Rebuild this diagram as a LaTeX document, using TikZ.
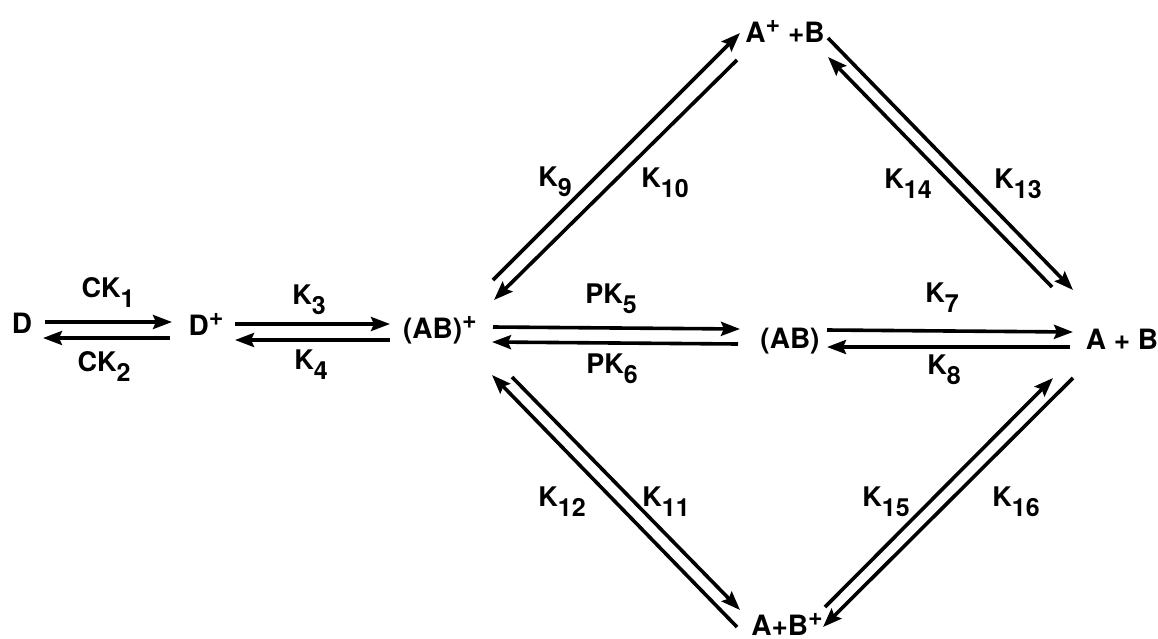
\documentclass[tikz,border=0pt]{standalone}
\usepackage{fontspec}
\setmainfont{TeX Gyre Heros}
\usepackage{tikz}
\usetikzlibrary{arrows.meta}

\newcommand{\rconst}[2]{#1\raisebox{-5pt}{\fontsize{12.5}{13}\selectfont #2}}
\newcommand{\chg}[1]{\raisebox{5pt}{\fontsize{12.5}{13}\selectfont #1}}

\tikzset{
  species/.style={font=\fontsize{14}{16}\selectfont\bfseries, inner sep=0pt, anchor=base},
  rlabel/.style={font=\fontsize{13.5}{15}\selectfont\bfseries, inner sep=0pt},
  react/.style={line width=1.8pt, -{Stealth[length=9.5pt,width=7pt,inset=1.5pt]}},
}

\begin{document}
\begin{tikzpicture}[x=0.5pt,y=-0.5pt]
    \useasboundingbox (0,0) rectangle (1158,638);
    \node[species] (d)     at (22,333)   {D};
    \node[species] (dp)    at (206,335)  {D\chg{+}};
    \node[species] (abp)   at (440,338)  {(AB)\chg{+}};
    \node[species] (ab)    at (790,348)  {(AB)};
    \node[species] (apb)   at (1122,349) {A + B};
    \node[species] (aplus) at (785,42)   {A\chg{+} +B};
    \node[species] (bplus) at (787,635)  {A+B\chg{+}};

    \draw[react] ([shift={(23,-11)}]d.base) -- ([shift={(-34,-13)}]dp.base);
    \draw[react] ([shift={(-36,3)}]dp.base) -- ([shift={(21,5)}]d.base);
    \draw[react] ([shift={(29,-11)}]dp.base) -- ([shift={(-50,-14)}]abp.base);
    \draw[react] ([shift={(-50,2)}]abp.base) -- ([shift={(29,5)}]dp.base);
    \draw[react] ([shift={(53,-11)}]abp.base) -- ([shift={(-50,-19)}]ab.base);
    \draw[react] ([shift={(-52,-4)}]ab.base) -- ([shift={(52,4)}]abp.base);
    \draw[react] ([shift={(37,-18)}]ab.base) -- ([shift={(-49,-17)}]apb.base);
    \draw[react] ([shift={(-52,-2)}]apb.base) -- ([shift={(37,-1)}]ab.base);

    \draw[react] ([shift={(53,-58)}]abp.base) -- ([shift={(-45,-9)}]aplus.base);
    \draw[react] ([shift={(-48,18)}]aplus.base) -- ([shift={(54,-38)}]abp.base);
    \draw[react] ([shift={(43,-4)}]aplus.base) -- ([shift={(-49,-59)}]apb.base);
    \draw[react] ([shift={(-70,-62)}]apb.base) -- ([shift={(43,15)}]aplus.base);
    \draw[react] ([shift={(72,39)}]abp.base) -- ([shift={(-47,-25)}]bplus.base);
    \draw[react] ([shift={(-50,-8)}]bplus.base) -- ([shift={(52,37)}]abp.base);
    \draw[react] ([shift={(38,-28)}]bplus.base) -- ([shift={(-69,29)}]apb.base);
    \draw[react] ([shift={(-49,29)}]apb.base) -- ([shift={(36,-8)}]bplus.base);

    \node[rlabel] (ck1) at (108,292)  {\rconst{CK}{1}};
    \node[rlabel] (ck2) at (104,366)  {\rconst{CK}{2}};
    \node[rlabel] (k3)  at (309,300)  {\rconst{K}{3}};
    \node[rlabel] (k4)  at (311,365)  {\rconst{K}{4}};
    \node[rlabel] (pk5) at (611,299)  {\rconst{PK}{5}};
    \node[rlabel] (pk6) at (612,369)  {\rconst{PK}{6}};
    \node[rlabel] (k7)  at (942,298)  {\rconst{K}{7}};
    \node[rlabel] (k8)  at (944,370)  {\rconst{K}{8}};
    \node[rlabel] (k9)  at (555,182)  {\rconst{K}{9}};
    \node[rlabel] (k10) at (665,183)  {\rconst{K}{10}};
    \node[rlabel] (k11) at (666,502)  {\rconst{K}{11}};
    \node[rlabel] (k12) at (562,502)  {\rconst{K}{12}};
    \node[rlabel] (k13) at (1018,184) {\rconst{K}{13}};
    \node[rlabel] (k14) at (908,184)  {\rconst{K}{14}};
    \node[rlabel] (k15) at (886,502)  {\rconst{K}{15}};
    \node[rlabel] (k16) at (1016,502) {\rconst{K}{16}};
  \end{tikzpicture}
\end{document}
